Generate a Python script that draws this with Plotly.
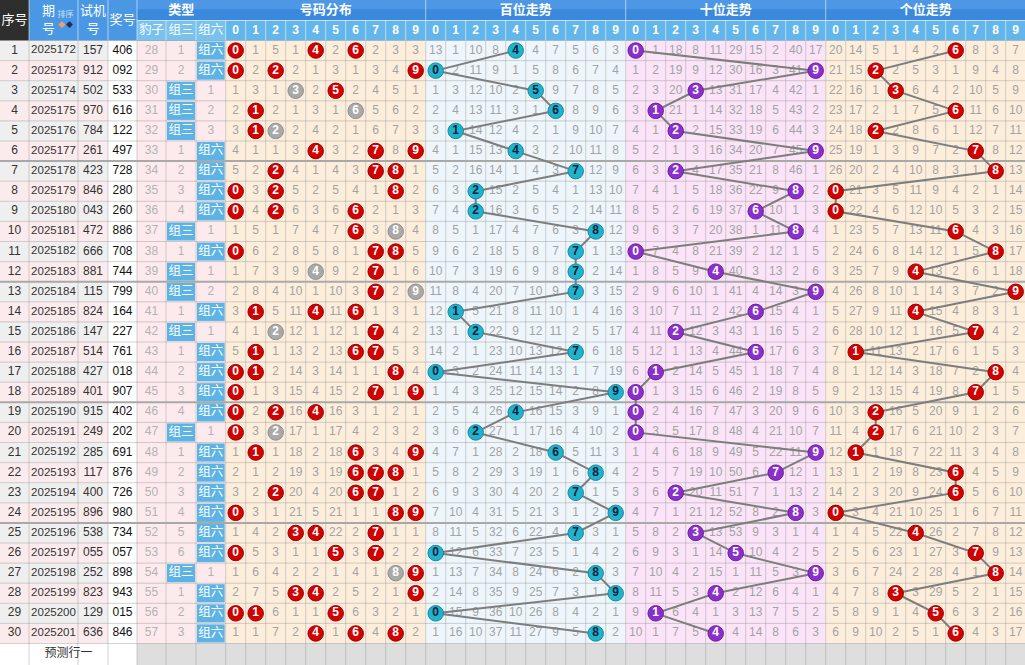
import plotly.graph_objects as go

# ---------------- data ----------------
issue_nos = ["2025172", "2025173", "2025174", "2025175", "2025176", "2025177",
             "2025178", "2025179", "2025180", "2025181", "2025182", "2025183",
             "2025184", "2025185", "2025186", "2025187", "2025188", "2025189",
             "2025190", "2025191", "2025192", "2025193", "2025194", "2025195",
             "2025196", "2025197", "2025198", "2025199", "2025200", "2025201"]
trial_nos = ["157", "912", "502", "970", "784", "261", "423", "846", "043", "472",
             "666", "881", "115", "824", "147", "514", "427", "401", "915", "249",
             "285", "117", "400", "896", "538", "055", "252", "823", "129", "636"]
draw_nos = ["406", "092", "533", "616", "122", "497", "728", "280", "260", "886",
            "708", "744", "799", "164", "227", "761", "018", "907", "402", "202",
            "691", "876", "726", "980", "734", "057", "898", "943", "015", "846"]
type_names = ["豹子", "组三", "组六"]
section_titles = ["号码分布", "百位走势", "十位走势", "个位走势"]
digit_labels = ["0", "1", "2", "3", "4", "5", "6", "7", "8", "9"]
# omission values shown on the first row (0 = hit)
baozi_miss_row1 = 28
zu3_miss_row1 = 1
zu6_miss_row1 = 0
dist_miss_row1 = [0, 1, 5, 1, 0, 2, 0, 2, 3, 3]
hund_miss_row1 = [13, 1, 10, 8, 0, 4, 7, 5, 6, 3]
tens_miss_row1 = [0, 1, 18, 8, 11, 29, 15, 2, 40, 17]
unit_miss_row1 = [20, 14, 5, 1, 4, 2, 0, 8, 3, 7]
predict_label = "预测行一"

# ---------------- omission tables following the draws ----------------
n = len(draw_nos)
draw_digits = [[int(c) for c in s] for s in draw_nos]


def advance(prev, hit):
    return [0 if d in hit else v + 1 for d, v in enumerate(prev)]


dist_miss, hund_miss, tens_miss, unit_miss = [dist_miss_row1], [hund_miss_row1], [tens_miss_row1], [unit_miss_row1]
baozi_miss, zu3_miss, zu6_miss = [baozi_miss_row1], [zu3_miss_row1], [zu6_miss_row1]
kinds = []
for r in range(n):
    ds = draw_digits[r]
    kinds.append("组三" if len(set(ds)) == 2 else ("豹子" if len(set(ds)) == 1 else "组六"))
for r in range(1, n):
    ds = draw_digits[r]
    dist_miss.append(advance(dist_miss[-1], set(ds)))
    hund_miss.append(advance(hund_miss[-1], {ds[0]}))
    tens_miss.append(advance(tens_miss[-1], {ds[1]}))
    unit_miss.append(advance(unit_miss[-1], {ds[2]}))
    baozi_miss.append(0 if kinds[r] == "豹子" else baozi_miss[-1] + 1)
    zu3_miss.append(0 if kinds[r] == "组三" else zu3_miss[-1] + 1)
    zu6_miss.append(0 if kinds[r] == "组六" else zu6_miss[-1] + 1)
sec_tables = [dist_miss, hund_miss, tens_miss, unit_miss]

# ---------------- geometry ----------------
W, H = 1025, 665
LEFT_EDGES = [0, 29, 78, 108, 137, 166, 196, 225.7]
SEC_X0 = 225.7
CW = 20.0
H1, H2 = 20.5, 40.5
RH = 20.1
BODY_B = H2 + RH * n


def cx(k, d):
    return SEC_X0 + 200 * k + CW * d + CW / 2


def ry(r):
    return H2 + RH * r + RH / 2


def lcx(c):
    return (LEFT_EDGES[c] + LEFT_EDGES[c + 1]) / 2


NUMF = "Liberation Sans, Arial, sans-serif"
CJKF = "Noto Sans CJK SC, sans-serif"

shapes = []


def rect(x0, y0, x1, y1, color):
    shapes.append(dict(type="rect", xref="x", yref="y", x0=x0, y0=y0, x1=x1, y1=y1,
                       fillcolor=color, line=dict(width=0), layer="below"))


# body backgrounds
for r in range(n):
    y0, y1 = H2 + RH * r, H2 + RH * (r + 1)
    rect(0, y0, LEFT_EDGES[3], y1, "#efefef" if r % 2 == 0 else "#fcebed")
rect(LEFT_EDGES[3], H2, LEFT_EDGES[4], BODY_B, "#ffffff")
rect(LEFT_EDGES[4], H2, LEFT_EDGES[7], BODY_B, "#fdeaec")
sec_bg = ["#fdeedb", "#eef6fb", "#fbe4f8", "#fdeedb"]
for k in range(4):
    rect(SEC_X0 + 200 * k, H2, SEC_X0 + 200 * (k + 1), BODY_B, sec_bg[k])
# type label cells
for r in range(n):
    c = 5 if kinds[r] == "组三" else 6
    rect(LEFT_EDGES[c] + 1, H2 + RH * r + 1, LEFT_EDGES[c + 1] - 1, H2 + RH * (r + 1) - 1, "#5cb4e6")
# prediction row
rect(0, BODY_B, LEFT_EDGES[4], H, "#ffffff")
rect(LEFT_EDGES[4], BODY_B, W, H, "#dedede")
# headers
rect(0, 0, LEFT_EDGES[1], H2, "#2e2e2e")
rect(LEFT_EDGES[1], 0, LEFT_EDGES[4], H2, "#4a98e3")
rect(LEFT_EDGES[4], 0, W, H1, "#3a89dd")
rect(LEFT_EDGES[4], 0, W, H1 * 0.45, "#4d97e4")
rect(LEFT_EDGES[4], H1, W, H2, "#63b6ec")
rect(LEFT_EDGES[4], H1, LEFT_EDGES[7], H2, "#7ac2ee")

# ---------------- grid lines ----------------
gx, gy = [], []
all_edges = LEFT_EDGES + [SEC_X0 + CW * i for i in range(1, 41)]
for x in all_edges[1:]:
    gx += [x, x, None]
    gy += [H2, H, None]
for r in range(n + 1):
    if r % 6 == 0 and 0 < r < n:
        continue
    y = H2 + RH * r
    gx += [0, W, None]
    gy += [y, y, None]
sx, sy = [], []
for r in range(6, n, 6):
    y = H2 + RH * r
    sx += [0, W, None]
    sy += [y, y, None]
hx, hy = [], []
for x in LEFT_EDGES[1:5]:
    hx += [x, x, None]
    hy += [0, H2, None]
for x in LEFT_EDGES[5:] + [SEC_X0 + CW * i for i in range(1, 41)]:
    hx += [x, x, None]
    hy += [H1, H2, None]
for k in range(1, 4):
    x = SEC_X0 + 200 * k
    hx += [x, x, None]
    hy += [0, H1, None]
hx += [LEFT_EDGES[4], W, None]
hy += [H1, H1, None]

fig = go.Figure()
fig.add_trace(go.Scatter(x=gx, y=gy, mode="lines", line=dict(color="rgba(140,140,140,0.38)", width=1),
                         hoverinfo="skip", showlegend=False))
fig.add_trace(go.Scatter(x=sx, y=sy, mode="lines", line=dict(color="#a9a9a9", width=2),
                         hoverinfo="skip", showlegend=False))
fig.add_trace(go.Scatter(x=hx, y=hy, mode="lines", line=dict(color="rgba(255,255,255,0.55)", width=1),
                         hoverinfo="skip", showlegend=False))


def texts(xs, ys, tx, color, size=12, family=NUMF):
    fig.add_trace(go.Scatter(x=xs, y=ys, text=tx, mode="text", textposition="middle center",
                             textfont=dict(color=color, size=size, family=family),
                             hoverinfo="skip", showlegend=False))


rows = list(range(n))
texts([lcx(0)] * n, [ry(r) for r in rows], [str(r + 1) for r in rows], "#333333")
texts([lcx(1)] * n, [ry(r) for r in rows], issue_nos, "#333333", 11.5)
texts([lcx(2)] * n, [ry(r) for r in rows], trial_nos, "#333333")
texts([lcx(3)] * n, [ry(r) for r in rows], draw_nos, "#111111")

# type columns
tx, ty, tt, lx, ly, lt = [], [], [], [], [], []
for r in rows:
    for c, vals in zip((4, 5, 6), (baozi_miss, zu3_miss, zu6_miss)):
        if vals[r] == 0:
            lx.append(lcx(c)); ly.append(ry(r)); lt.append(kinds[r])
        else:
            tx.append(lcx(c)); ty.append(ry(r)); tt.append(str(vals[r]))
texts(tx, ty, tt, "#b3b3b3")
texts(lx, ly, lt, "#ffffff", 12.5, CJKF)

# miss counts in sections
mx, my, mt = [], [], []
for k, tab in enumerate(sec_tables):
    for r in rows:
        for d in range(10):
            if tab[r][d] != 0:
                mx.append(cx(k, d)); my.append(ry(r)); mt.append(str(tab[r][d]))
texts(mx, my, mt, "#a3a3a3")

# connecting lines for positional trends
for k in (1, 2, 3):
    pos = k - 1
    fig.add_trace(go.Scatter(x=[cx(k, draw_digits[r][pos]) for r in rows], y=[ry(r) for r in rows],
                             mode="lines", line=dict(color="#7d7d7d", width=2),
                             hoverinfo="skip", showlegend=False))

# balls
ball_style = {1: ("#22b2cb", "#158aa0", "#0c2340"), 2: ("#8a2fcb", "#6a1fa5", "#ffffff"),
              3: ("#d20000", "#a00000", "#ffffff")}
bx, by, bt, bfill, bline, bfont = [], [], [], [], [], []
for r in rows:
    ds = draw_digits[r]
    for d in sorted(set(ds)):
        bx.append(cx(0, d)); by.append(ry(r)); bt.append(f"<b>{d}</b>")
        if ds.count(d) >= 2:
            bfill.append("#a9a9a9"); bline.append("#8f8f8f")
        else:
            bfill.append("#d20000"); bline.append("#a00000")
        bfont.append("#ffffff")
    for k in (1, 2, 3):
        d = ds[k - 1]
        f, l, t = ball_style[k]
        bx.append(cx(k, d)); by.append(ry(r)); bt.append(f"<b>{d}</b>")
        bfill.append(f); bline.append(l); bfont.append(t)
fig.add_trace(go.Scatter(x=bx, y=by, text=bt, mode="markers+text", textposition="middle center",
                         marker=dict(size=15.5, color=bfill, line=dict(color=bline, width=1)),
                         textfont=dict(color=bfont, size=12, family=NUMF),
                         hoverinfo="skip", showlegend=False))

# headers
texts([lcx(0)], [H2 / 2], ["序号"], "#ffffff", 13, CJKF)
texts([lcx(1) - 5, lcx(1) - 5], [12, 30], ["期", "号"], "#ffffff", 13, CJKF)
texts([lcx(1) + 12], [15], ["排序"], "#c9e1f7", 8, CJKF)
texts([lcx(1) + 8, lcx(1) + 16], [25, 25], ["◆", "◆"], ["#e9a07a", "#1f2f4f"], 7, CJKF)
texts([lcx(2), lcx(2)], [12, 30], ["试机", "号"], "#ffffff", 13, CJKF)
texts([lcx(3)], [H2 / 2], ["奖号"], "#ffffff", 13, CJKF)
texts([(LEFT_EDGES[4] + LEFT_EDGES[7]) / 2], [H1 / 2], ["<b>类型</b>"], "#ffffff", 13, CJKF)
texts([lcx(c) for c in (4, 5, 6)], [(H1 + H2) / 2] * 3, type_names, "#ffffff", 12.5, CJKF)
texts([SEC_X0 + 200 * k + 100 for k in range(4)], [H1 / 2] * 4, [f"<b>{s}</b>" for s in section_titles],
      "#ffffff", 13, CJKF)
texts([cx(k, d) for k in range(4) for d in range(10)], [(H1 + H2) / 2] * 40,
      [f"<b>{digit_labels[d]}</b>" for k in range(4) for d in range(10)], "#ffffff", 12, NUMF)
texts([(0 + LEFT_EDGES[4]) / 2], [(BODY_B + H) / 2], [predict_label], "#333333", 12, CJKF)

fig.update_layout(width=W, height=H, margin=dict(l=0, r=0, t=0, b=0),
                  paper_bgcolor="#ffffff", plot_bgcolor="#ffffff", shapes=shapes,
                  xaxis=dict(range=[0, W], visible=False, fixedrange=True),
                  yaxis=dict(range=[H, 0], visible=False, fixedrange=True),
                  showlegend=False)
fig.write_html("out.html", config={"displayModeBar": False},
               post_script="document.body.style.margin='0';document.body.style.overflow='hidden';")
